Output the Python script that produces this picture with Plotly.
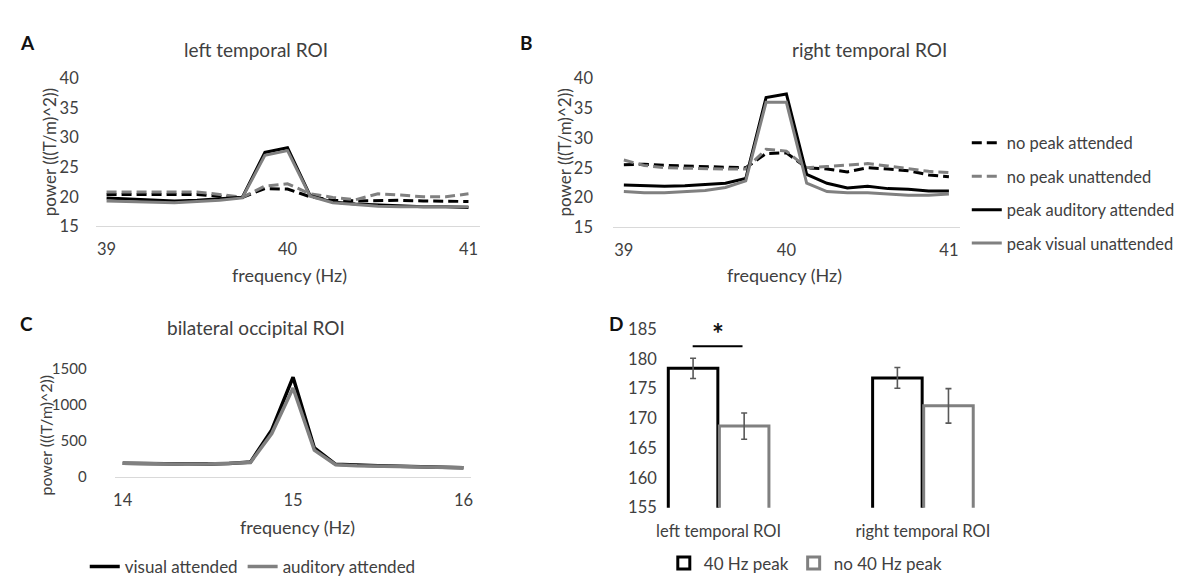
import plotly.graph_objects as go

# ---------------- data ----------------
freq_ab = [39.0, 39.125, 39.25, 39.375, 39.5, 39.625, 39.75, 39.875, 40.0,
           40.125, 40.25, 40.375, 40.5, 40.625, 40.75, 40.875, 41.0]
ab_ticks = [39, 40, 41]

# A: left temporal ROI
left_np_att = [20.4, 20.4, 20.5, 20.4, 20.4, 20.1, 19.9, 21.4, 21.3, 20.0, 19.4, 19.3, 19.4, 19.4, 19.3, 19.2, 19.2]
left_np_unatt = [20.8, 20.8, 20.8, 20.9, 20.8, 20.4, 19.9, 21.8, 22.2, 20.5, 19.9, 19.5, 20.5, 20.3, 20.0, 20.0, 20.5]
left_pk_aud = [19.8, 19.6, 19.4, 19.3, 19.4, 19.6, 19.9, 27.5, 28.3, 20.2, 19.1, 18.8, 18.6, 18.4, 18.3, 18.3, 18.2]
left_pk_vis = [19.3, 19.2, 19.0, 19.0, 19.2, 19.4, 19.8, 27.0, 27.8, 20.1, 19.0, 18.7, 18.4, 18.3, 18.3, 18.3, 18.3]

# B: right temporal ROI
right_np_att = [25.5, 25.6, 25.4, 25.3, 25.2, 25.0, 25.0, 27.4, 27.5, 25.0, 24.8, 24.3, 25.0, 24.8, 24.5, 23.8, 23.5]
right_np_unatt = [26.3, 25.4, 25.0, 24.9, 24.9, 24.8, 24.8, 28.1, 27.8, 25.0, 25.2, 25.5, 25.7, 25.3, 24.9, 24.4, 24.2]
right_pk_aud = [22.1, 22.0, 21.9, 22.0, 22.2, 22.4, 23.2, 36.8, 37.4, 23.9, 22.4, 21.6, 21.9, 21.5, 21.4, 21.1, 21.1]
right_pk_vis = [21.0, 20.8, 20.8, 21.0, 21.2, 21.7, 22.8, 36.0, 36.0, 22.4, 21.0, 20.8, 20.8, 20.6, 20.4, 20.4, 20.6]

series_names_ab = ["no peak attended", "no peak unattended",
                   "peak auditory attended", "peak visual unattended"]
ab_yticks = [15, 20, 25, 30, 35, 40]

# C: bilateral occipital ROI
freq_c = [14.0, 14.125, 14.25, 14.375, 14.5, 14.625, 14.75, 14.875, 15.0,
          15.125, 15.25, 15.375, 15.5, 15.625, 15.75, 15.875, 16.0]
c_ticks = [14, 15, 16]
occ_vis_att = [190, 182, 178, 178, 180, 186, 205, 650, 1380, 400, 175, 160, 155, 148, 140, 135, 128]
occ_aud_att = [188, 180, 176, 176, 178, 184, 200, 600, 1230, 370, 168, 155, 150, 145, 138, 132, 126]
c_yticks = [0, 500, 1000, 1500]

# D: bar chart
d_categories = ["left temporal ROI", "right temporal ROI"]
peak40 = [178.4, 176.8]
peak40_err = [1.7, 1.75]
nopeak40 = [168.7, 172.1]
nopeak40_err = [2.2, 2.9]
d_yticks = [155, 160, 165, 170, 175, 180, 185]
sig_x = [-0.127, 0.117]
sig_y = 182.1
star_y = 184.4

# ---------------- layout helpers ----------------
W, H = 1192, 577
FONT = "Lato"
TXT = "#404040"


def px_x(p):
    return p / W


def px_y(p):
    return 1 - p / H


BLACK = "#000000"
GRAY = "#808080"
DASH = "10px,5px"

fig = go.Figure()

styles = [(BLACK, DASH), (GRAY, DASH), (BLACK, "solid"), (GRAY, "solid")]
left_series = [left_np_att, left_np_unatt, left_pk_aud, left_pk_vis]
right_series = [right_np_att, right_np_unatt, right_pk_aud, right_pk_vis]

for name, (col, dash), ys in zip(series_names_ab, styles, left_series):
    fig.add_trace(go.Scatter(x=freq_ab, y=ys, mode="lines", name=name,
                             line=dict(color=col, width=3, dash=dash),
                             xaxis="x", yaxis="y", showlegend=False,
                             legendgroup=name, hoverinfo="skip"))
for name, (col, dash), ys in zip(series_names_ab, styles, right_series):
    fig.add_trace(go.Scatter(x=freq_ab, y=ys, mode="lines", name=name,
                             line=dict(color=col, width=3, dash=dash),
                             xaxis="x2", yaxis="y2", showlegend=True,
                             legendgroup=name, legend="legend"))

fig.add_trace(go.Scatter(x=freq_c, y=occ_vis_att, mode="lines", name="visual attended",
                         line=dict(color=BLACK, width=3.5), xaxis="x3", yaxis="y3",
                         legend="legend2"))
fig.add_trace(go.Scatter(x=freq_c, y=occ_aud_att, mode="lines", name="auditory attended",
                         line=dict(color=GRAY, width=3.5), xaxis="x3", yaxis="y3",
                         legend="legend2"))

fig.add_trace(go.Bar(x=d_categories, y=peak40, name="40 Hz peak", xaxis="x4", yaxis="y4",
                     marker=dict(color="white", line=dict(color=BLACK, width=3)),
                     error_y=dict(type="data", array=peak40_err, color="#595959",
                                  thickness=1.6, width=3),
                     legend="legend3"))
fig.add_trace(go.Bar(x=d_categories, y=nopeak40, name="no 40 Hz peak", xaxis="x4", yaxis="y4",
                     marker=dict(color="white", line=dict(color=GRAY, width=3)),
                     error_y=dict(type="data", array=nopeak40_err, color="#595959",
                                  thickness=1.6, width=3),
                     legend="legend3"))

tickfont = dict(family=FONT, size=16.5, color=TXT)
tickfont_c = dict(family=FONT, size=15, color=TXT)

xline = dict(showline=True, linecolor="#d9d9d9", linewidth=1.3, showgrid=False,
             zeroline=False, ticks="", tickfont=tickfont, ticklabelstandoff=8)
yline = dict(showline=False, showgrid=False, zeroline=False, ticks="")

fig.update_layout(
    width=W, height=H, autosize=False,
    margin=dict(l=0, r=0, t=0, b=0),
    paper_bgcolor="white", plot_bgcolor="white",
    font=dict(family=FONT, color=TXT),
    barmode="group", bargap=0.5, bargroupgap=0.03,
    xaxis=dict(domain=[px_x(86), px_x(472)], range=[38.94, 41.066],
               tickvals=ab_ticks, anchor="y", **xline),
    yaxis=dict(domain=[px_y(217), px_y(63)], range=[15, 40], tickvals=ab_yticks,
               anchor="x", ticklabelstandoff=16, tickfont=tickfont, **yline),
    xaxis2=dict(domain=[px_x(605), px_x(953)], range=[38.933, 41.067],
                tickvals=ab_ticks, anchor="y2", **xline),
    yaxis2=dict(domain=[px_y(218), px_y(63)], range=[15, 40], tickvals=ab_yticks,
                anchor="x2", ticklabelstandoff=19, tickfont=tickfont, **yline),
    xaxis3=dict(domain=[px_x(105), px_x(463)], range=[13.953, 16.047],
                tickvals=c_ticks, anchor="y3", **xline),
    yaxis3=dict(domain=[px_y(478), px_y(365)], range=[0, 1500], tickvals=c_yticks,
                anchor="x3", ticklabelstandoff=27, tickfont=tickfont_c, **yline),
    xaxis4=dict(domain=[px_x(608.5), px_x(1018.5)], type="category", anchor="y4",
                showline=False, showgrid=False, zeroline=False, ticks="",
                tickfont=tickfont, ticklabelstandoff=12),
    yaxis4=dict(domain=[px_y(510), px_y(324)], range=[155, 185], tickvals=d_yticks,
                anchor="free", position=px_x(652), ticklabelstandoff=3,
                tickfont=tickfont, **yline),
    legend=dict(x=px_x(960), y=px_y(112), xanchor="left", yanchor="top",
                font=dict(family=FONT, size=16.5, color=TXT), bgcolor="rgba(0,0,0,0)",
                traceorder="grouped", tracegroupgap=9, itemwidth=30),
    legend2=dict(x=px_x(75), y=px_y(572), xanchor="left", yanchor="middle",
                 orientation="h", font=dict(family=FONT, size=17, color=TXT),
                 bgcolor="rgba(0,0,0,0)"),
    legend3=dict(x=px_x(656), y=px_y(568), xanchor="left", yanchor="middle",
                 orientation="h", font=dict(family=FONT, size=17, color=TXT),
                 bgcolor="rgba(0,0,0,0)"),
)

# significance marker in panel D
fig.add_shape(type="line", xref="x4", yref="y4", x0=sig_x[0], x1=sig_x[1],
              y0=sig_y, y1=sig_y, line=dict(color=BLACK, width=2))
fig.add_annotation(xref="x4", yref="y4", x=sum(sig_x) / 2, y=star_y, text="<b>*</b>",
                   showarrow=False, font=dict(family=FONT, size=28, color="#111"))

# text annotations (titles, axis titles, panel letters)
def label(text, x, y, size=17, angle=0, bold=False, color=TXT):
    fig.add_annotation(xref="paper", yref="paper", x=px_x(x), y=px_y(y),
                       text=f"<b>{text}</b>" if bold else text, showarrow=False,
                       textangle=angle, xanchor="center", yanchor="middle",
                       font=dict(family=FONT, size=size, color=color))

label("A", 18, 25, size=19, bold=True, color="#111")
label("B", 518, 25, size=19, bold=True, color="#111")
label("C", 17, 318, size=19, bold=True, color="#111")
label("D", 608, 318, size=19, bold=True, color="#111")

label("left temporal ROI", 247, 33, size=19)
label("right temporal ROI", 862, 33, size=19)
label("bilateral occipital ROI", 247, 322, size=19)

label("power (((T/m)^2))", 40, 140, size=17, angle=-90)
label("power (((T/m)^2))", 556, 140, size=17, angle=-90)
label("power (((T/m)^2))", 36, 434, size=16, angle=-90)

label("frequency (Hz)", 280, 268, size=18)
label("frequency (Hz)", 777, 268, size=18)
label("frequency (Hz)", 288, 530, size=18)

fig.write_html("out.html")
